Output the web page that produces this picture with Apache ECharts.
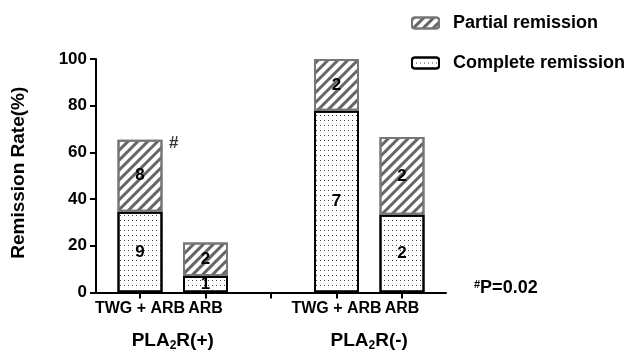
<!DOCTYPE html>
<html><head><meta charset="utf-8">
<script src="https://cdn.jsdelivr.net/npm/echarts@6/dist/echarts.min.js"></script>
<style>html,body{margin:0;padding:0;background:#fff}#c{width:630px;height:360px}</style>
</head><body><div id="c"></div>
<script>
const categories = ['TWG + ARB', 'ARB', '', 'TWG + ARB', 'ARB'];
const groups = ['PLA2R(+)', 'PLA2R(-)'];
const groupMembers = [[0, 1], [3, 4]];
const completeRate = [34.6, 7.1, null, 77.8, 33.3];
const partialRate = [30.8, 14.3, null, 22.2, 33.3];
const completeCount = [9, 1, null, 7, 2];
const partialCount = [8, 2, null, 2, 2];
const yTicks = [0, 20, 40, 60, 80, 100];
const sigIndex = 0;
const sigMark = '#';
const pNote = 'P=0.02';

const FONT = '"Liberation Sans", Arial, sans-serif';
const groupPos = groupMembers.map(m => (m[0] + m[1]) / 2 + 1);

const hatch = { symbol: 'rect', symbolSize: 1, dashArrayX: [1, 0], dashArrayY: [3, 4], rotation: -Math.PI / 4, color: '#666' };
const dots = { symbol: 'rect', symbolSize: 1, dashArrayX: [1, 3], dashArrayY: [1, 4], rotation: 0, color: '#444' };

const gridTop = 59, gridBottom = 67.5;
const chart = echarts.init(document.getElementById('c'), null, { renderer: 'canvas' });
chart.setOption({
  animation: false,
  backgroundColor: '#fff',
  textStyle: { fontFamily: FONT },
  legend: {
    orient: 'vertical', left: 411, top: 14, padding: 0, itemWidth: 27, itemHeight: 11, itemGap: 22,
    data: ['Partial remission', 'Complete remission'],
    textStyle: { fontFamily: FONT, fontWeight: 'bold', fontSize: 18, color: '#000', padding: [0, 0, 0, 9] }
  },
  grid: [
    { left: 96, right: 184, top: gridTop, bottom: gridBottom },
    { left: 107.25, right: 195.25, top: gridTop, bottom: gridBottom }
  ],
  xAxis: [{
    gridIndex: 0, type: 'value', min: 0, max: 1,
    splitLine: { show: false },
    axisLine: { show: true, lineStyle: { color: '#000', width: 2 } },
    axisTick: { show: false }, axisLabel: { show: false }
  }, {
    gridIndex: 1, type: 'category', data: categories,
    axisLine: { show: false },
    axisTick: { show: true, alignWithLabel: true, length: 6, lineStyle: { color: '#000', width: 2 } },
    axisLabel: { interval: 0, margin: 8, color: '#000', fontWeight: 'bold', fontSize: 16, fontFamily: FONT }
  }, {
    gridIndex: 1, type: 'value', min: 0.5, max: 5.5, position: 'bottom', offset: 30,
    splitLine: { show: false }, axisLine: { show: false }, axisTick: { show: false },
    axisLabel: {
      customValues: groupPos, margin: 8, color: '#000',
      formatter: v => {
        const g = groups[groupPos.indexOf(v)];
        const m = g.match(/^PLA2R(.*)$/);
        return '{g|PLA}{s|2}{g|R' + m[1] + '}';
      },
      rich: {
        g: { fontWeight: 'bold', fontSize: 19, fontFamily: FONT, color: '#000' },
        s: { fontWeight: 'bold', fontSize: 12, fontFamily: FONT, color: '#000', padding: [9, 0, 0, 0] }
      }
    }
  }],
  yAxis: [{
    gridIndex: 0, type: 'value', min: 0, max: 100, interval: 20,
    name: 'Remission Rate(%)', nameLocation: 'middle', nameGap: 68,
    nameTextStyle: { fontWeight: 'bold', fontSize: 19, color: '#000', fontFamily: FONT, padding: [0, 0, 0, 6] },
    splitLine: { show: false },
    axisLine: { show: true, lineStyle: { color: '#000', width: 2 } },
    axisTick: { show: true, length: 6, lineStyle: { color: '#000', width: 2 } },
    axisLabel: { margin: 9, color: '#000', fontWeight: 'bold', fontSize: 17, fontFamily: FONT,
      formatter: v => yTicks.includes(v) ? String(v) : '' }
  }, {
    gridIndex: 1, type: 'value', min: 0, max: 100, show: false
  }],
  series: [{
    name: 'Complete remission', type: 'bar', stack: 'r', barWidth: 45, xAxisIndex: 1, yAxisIndex: 1,
    data: completeRate,
    itemStyle: { color: '#fff', borderColor: '#000', borderWidth: 2, decal: dots },
    label: { show: true, position: 'inside', color: '#000', fontWeight: 'bold', fontSize: 17, fontFamily: FONT,
      formatter: p => String(completeCount[p.dataIndex]) }
  }, {
    name: 'Partial remission', type: 'bar', stack: 'r', barWidth: 45, xAxisIndex: 1, yAxisIndex: 1,
    data: partialRate,
    itemStyle: { color: '#fff', borderColor: '#777', borderWidth: 2, decal: hatch },
    label: { show: true, position: 'inside', color: '#000', fontWeight: 'bold', fontSize: 17, fontFamily: FONT,
      formatter: p => String(partialCount[p.dataIndex]) }
  }, {
    name: 'sig', type: 'scatter', symbolSize: 0, silent: true, xAxisIndex: 1, yAxisIndex: 1,
    data: [[sigIndex, completeRate[sigIndex] + partialRate[sigIndex]]],
    label: { show: true, position: 'right', offset: [24, 4], formatter: sigMark, color: '#000', fontWeight: 'bold', fontSize: 17, fontFamily: FONT }
  }],
  graphic: [{
    type: 'text', left: 474, top: 279,
    style: {
      text: '{sup|' + sigMark + '}{t|' + pNote + '}',
      rich: {
        sup: { fontSize: 11, fontWeight: 'bold', fontFamily: FONT, fill: '#000', padding: [0, 0, 8, 0] },
        t: { fontSize: 18, fontWeight: 'bold', fontFamily: FONT, fill: '#000' }
      }
    }
  }]
});
</script></body></html>
